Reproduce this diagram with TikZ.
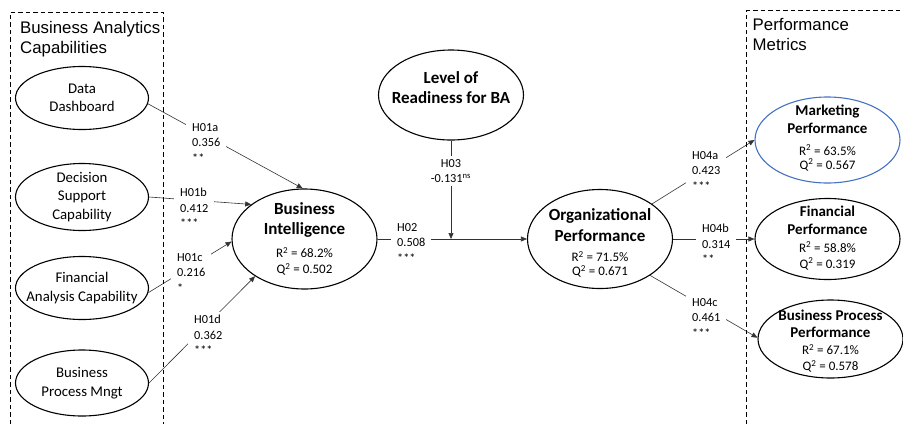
\documentclass[tikz,border=0pt]{standalone}
\usepackage{fontspec}
\setmainfont{Carlito}
\newfontfamily\arialfont{Liberation Sans}
\usetikzlibrary{shapes.geometric,arrows.meta}
\newcommand\fsz[2]{\fontsize{#1}{#2}\selectfont}
\newcommand\tightlines{\lineskiplimit=-100pt\relax}
\newcommand\bigbold{\fontsize{17}{20}\selectfont\bfseries}
\newcommand\midbold{\fontsize{15}{18}\selectfont\bfseries}
\definecolor{officeblue}{HTML}{4472C4}
\pgfdeclarelayer{background}
\pgfsetlayers{background,main}
\begin{document}
\begin{tikzpicture}[x=1pt,y=-1pt,
  construct/.style={ellipse, draw, line width=1.1pt, minimum width=133pt,
    minimum height=64pt, inner sep=0pt},
  lefttext/.style={font=\fsz{14.8}{18.5}\tightlines, align=center},
  rqtext/.style={font=\fsz{13}{14}\tightlines, align=center},
  bigtext/.style={font=\bigbold\tightlines, align=center},
  hyp/.style={font=\fsz{12.3}{15.5}, align=left, fill=white, inner xsep=6pt,
    inner ysep=3pt, anchor=west},
  link/.style={draw=black!80, line width=0.6pt, -{Triangle[length=6pt,width=5pt]}},
  frame/.style={draw, line width=0.8pt, dash pattern=on 4.5pt off 3pt},
  title/.style={font=\arialfont\fsz{16.8}{20.5}, align=left, inner sep=0pt, anchor=north west}
]
\useasboundingbox (0,0) rectangle (903,424);

% dashed group frames
\draw[frame] (10,424) -- (10,12) -- (163,12) -- (163,424);
\draw[frame] (746.5,424) -- (746.5,10.5) -- (903,10.5);
\node[title] (tleft) at (20,21) {Business Analytics\\Capabilities};
\node[title] (tright) at (752.5,18) {Performance\\Metrics};

% business analytics capabilities
\node[construct, minimum height=63pt,
  label={[lefttext]center:{Data\\Dashboard}}] (dd) at (82,98) {};
\node[construct, minimum height=67pt,
  label={[lefttext]center:{Decision\\Support\\Capability}}] (dsc) at (82,197) {};
\node[construct, minimum height=63pt,
  label={[lefttext]center:{Financial\\Analysis Capability}}] (fac) at (82,288) {};
\node[construct, minimum height=66pt,
  label={[lefttext]center:{Business\\Process Mngt}}] (bpm) at (82,383) {};

% central constructs
\node[construct, minimum width=145pt, minimum height=100pt,
  label={[rqtext]center:{\bigbold Business\\[6pt]\bigbold Intelligence\\[9.5pt]R\textsuperscript{2} = 68.2\%\\[2pt]Q\textsuperscript{2} = 0.502}}] (bi) at (304.5,239) {};
\node[construct, minimum width=145pt, minimum height=90pt,
  label={[bigtext, yshift=7pt]center:{Level of\\Readiness for BA}}] (lr) at (451,95) {};
\node[construct, minimum width=145pt, minimum height=99pt,
  label={[rqtext,yshift=-4pt]center:{\bigbold Organizational\\[7pt]\bigbold Performance\\[5.5pt]R\textsuperscript{2} = 71.5\%\\Q\textsuperscript{2} = 0.671}}] (op) at (600,239) {};

% performance metrics
\node[construct, draw=officeblue, minimum width=145pt, minimum height=86pt,
  label={[rqtext,yshift=2pt]center:{\midbold Marketing\\[4pt]\midbold Performance\\[7.5pt]R\textsuperscript{2} = 63.5\%\\Q\textsuperscript{2} = 0.567}}] (mp) at (827.5,140) {};
\node[construct, minimum width=145pt, minimum height=81pt,
  label={[rqtext,yshift=1pt]center:{\midbold Financial\\[4pt]\midbold Performance\\[3.5pt]R\textsuperscript{2} = 58.8\%\\[2pt]Q\textsuperscript{2} = 0.319}}] (fp) at (827.5,239) {};
\node[construct, minimum width=145pt, minimum height=78pt,
  label={[rqtext,yshift=-2pt]center:{\midbold Business Process\\[3pt]\midbold Performance\\[3.5pt]R\textsuperscript{2} = 67.1\%\\[2pt]Q\textsuperscript{2} = 0.578}}] (bpp) at (830.5,339) {};

\coordinate (mod) at (lr.south |- bi.east);

% path coefficients
\node[hyp] (h1a) at (186,143) {H01a\\0.356\\**};
\node[hyp] (h1b) at (174,208) {H01b\\0.412\\***};
\node[hyp] (h1c) at (171,273) {H01c\\0.216\\*};
\node[hyp] (h1d) at (188,335) {H01d\\0.362\\***};
\node[hyp] (h2) at (391,243) {H02\\0.508\\***};
\node[hyp, align=center, anchor=center] (h3) at (451,171) {H03\\-0.131\textsuperscript{ns}};
\node[hyp] (h4a) at (686,171) {H04a\\0.423\\***};
\node[hyp] (h4b) at (696,244) {H04b\\0.314\\**};
\node[hyp] (h4c) at (686,318) {H04c\\0.461\\***};

\begin{pgfonlayer}{background}
\draw[link] (dd.-5) -- (bi.92);
\draw[link] (dsc.0) -- (bi.147);
\draw[link] (fac.-4) -- (bi.182);
\draw[link] (bpm.0) -- (bi.217);
\draw[link] (bi.east) -- (op.west);
\draw[link] (lr.south) -- (mod);
\draw[link] (op.34) -- (mp.west);
\draw[link] (op.east) -- (fp.west);
\draw[link] (op.-36) -- (bpp.179);
\end{pgfonlayer}
\end{tikzpicture}
\end{document}
